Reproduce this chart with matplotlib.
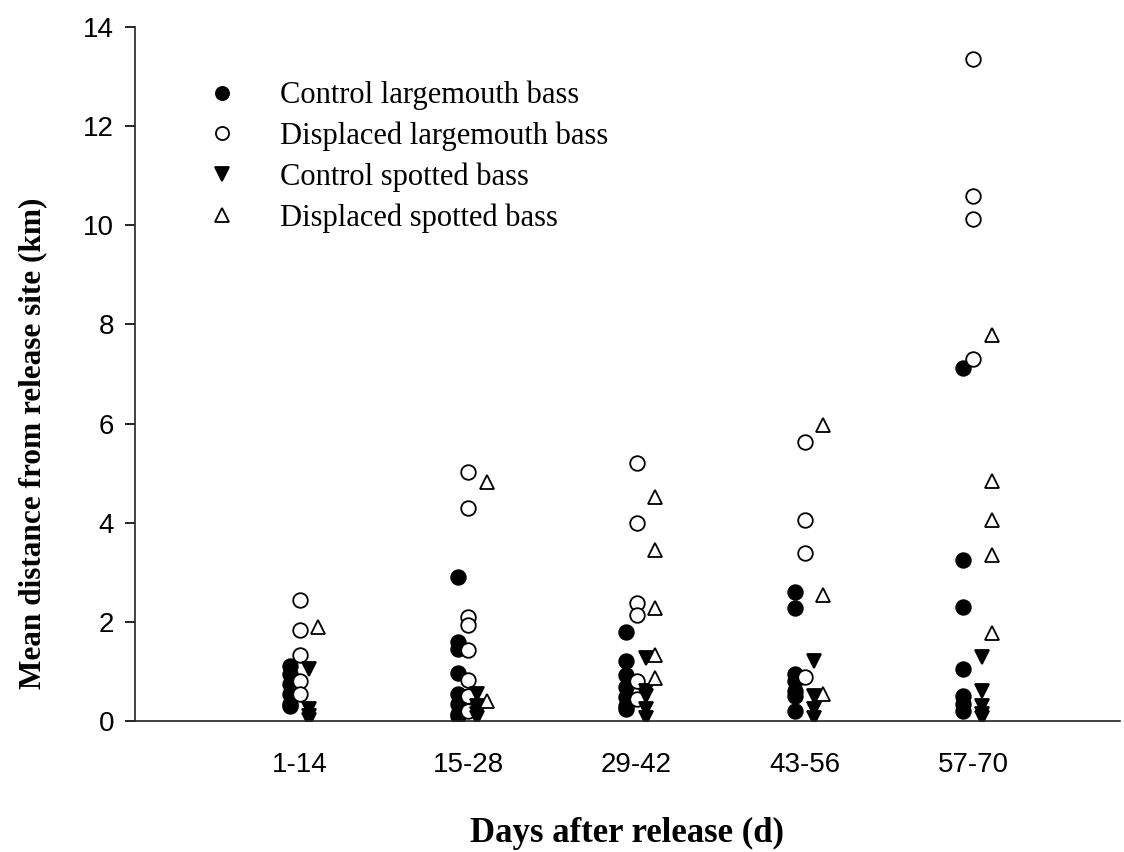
import matplotlib
matplotlib.use("Agg")
import matplotlib.pyplot as plt

# Day-interval groups on the x axis
periods = ["1-14", "15-28", "29-42", "43-56", "57-70"]

# Mean distance from release site (km), one list per period
control_lmb = [
    [1.1, 0.95, 0.75, 0.55, 0.35, 0.3],
    [2.9, 1.6, 1.45, 0.97, 0.55, 0.35, 0.15, 0.1],
    [1.8, 1.2, 0.92, 0.68, 0.48, 0.3, 0.25],
    [2.6, 2.28, 0.95, 0.8, 0.6, 0.5, 0.2],
    [7.12, 3.24, 2.3, 1.05, 0.5, 0.35, 0.2],
]
displaced_lmb = [
    [2.44, 1.83, 1.33, 0.8, 0.55],
    [5.02, 4.29, 2.1, 1.94, 1.43, 0.83, 0.5, 0.2],
    [5.2, 3.99, 2.38, 2.13, 0.8, 0.45],
    [5.63, 4.06, 3.38, 0.88],
    [13.35, 10.6, 10.13, 7.3],
]
control_sb = [
    [1.05, 0.25, 0.1, 0.02],
    [0.55, 0.3, 0.15, 0.05],
    [1.27, 0.6, 0.5, 0.25, 0.05],
    [1.2, 0.5, 0.25, 0.05],
    [1.3, 0.6, 0.3, 0.15, 0.05],
]
displaced_sb = [
    [1.9],
    [4.82, 0.4],
    [4.52, 3.45, 2.28, 1.33, 0.87],
    [5.97, 2.54, 0.55],
    [7.78, 4.85, 4.05, 3.35, 1.77],
]

series = [
    ("Control largemouth bass", control_lmb, -0.06, dict(marker="o", mfc="black", mec="black")),
    ("Displaced largemouth bass", displaced_lmb, 0.0, dict(marker="o", mfc="white", mec="black")),
    ("Control spotted bass", control_sb, 0.055, dict(marker="v", mfc="black", mec="black")),
    ("Displaced spotted bass", displaced_sb, 0.11, dict(marker="^", mfc="white", mec="black")),
]

fig = plt.figure(figsize=(11.24, 8.52), dpi=100)
ax = fig.add_axes([0.120, 0.1538, 0.8764, 0.8145])

for label, groups, dx, style in series:
    xs, ys = [], []
    for i, vals in enumerate(groups):
        xs += [i + 1 + dx] * len(vals)
        ys += vals
    ax.plot(xs, ys, ls="none", ms=10.5, mew=1.3, label=label, **style)

ax.set_xlim(0.019, 5.873)
ax.set_ylim(0, 14)
ax.set_yticks(range(0, 15, 2))
ax.set_xticks(range(1, 6))
ax.set_xticklabels(periods)

for side in ("top", "right"):
    ax.spines[side].set_visible(False)
for side in ("left", "bottom"):
    ax.spines[side].set_linewidth(1.2)
    ax.spines[side].set_color("#222222")

ax.tick_params(axis="y", direction="out", length=7, width=1.2, labelsize=20, pad=8)
ax.tick_params(axis="x", length=0, labelsize=20, pad=22)
for t in ax.get_xticklabels() + ax.get_yticklabels():
    t.set_fontfamily("Liberation Sans")

ax.set_xlabel("Days after release (d)", family="Liberation Serif", fontsize=25,
              fontweight="bold")
ax.xaxis.set_label_coords(0.5, -0.139)
ax.set_ylabel("Mean distance from release site (km)", family="Liberation Serif",
              fontsize=22.5, fontweight="bold")
ax.yaxis.set_label_coords(-0.089, 0.40)

ax.legend(loc="upper left", bbox_to_anchor=(0.029, 0.962), frameon=False,
          prop={"family": "Liberation Serif", "size": 22}, handletextpad=0.9,
          labelspacing=0.37, markerscale=0.9)

fig.savefig("out.png", dpi=100, facecolor="white")
